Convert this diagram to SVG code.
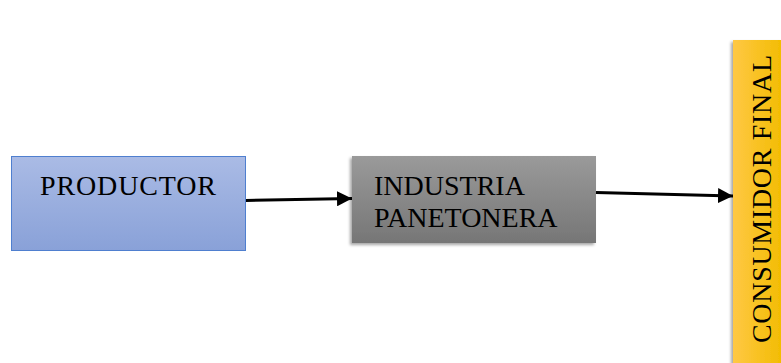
<svg xmlns="http://www.w3.org/2000/svg" width="781" height="363" viewBox="0 0 781 363">
  <defs>
    <linearGradient id="gBlue" x1="0" y1="0" x2="0" y2="1">
      <stop offset="0" stop-color="#aabbe5"/>
      <stop offset="1" stop-color="#89a1d8"/>
    </linearGradient>
    <linearGradient id="gGray" x1="0" y1="0" x2="0" y2="1">
      <stop offset="0" stop-color="#9a9a9a"/>
      <stop offset="1" stop-color="#767676"/>
    </linearGradient>
    <linearGradient id="gGold" x1="0" y1="0" x2="1" y2="0">
      <stop offset="0" stop-color="#ffc845"/>
      <stop offset="1" stop-color="#f2bc00"/>
    </linearGradient>
    <filter id="shadow" x="-10%" y="-10%" width="130%" height="130%">
      <feDropShadow dx="-2" dy="2" stdDeviation="1.5" flood-color="#000" flood-opacity="0.35"/>
    </filter>
    <marker id="arrow" viewBox="0 0 10 10" refX="10" refY="5" markerWidth="5" markerHeight="5" markerUnits="strokeWidth" orient="auto">
      <path d="M0,0 L10,5 L0,10 z" fill="#000"/>
    </marker>
  </defs>
  <style>
    .label { font-family: "Liberation Serif", "Times New Roman", serif; font-size: 28px; fill: #000; }
    .edge { stroke: #000; stroke-width: 3; fill: none; marker-end: url(#arrow); }
  </style>

  <g id="productor">
    <rect x="11.5" y="156.5" width="234" height="94" fill="url(#gBlue)" stroke="#4f7fcf" stroke-width="1"/>
    <text class="label" x="40" y="195" textLength="176">PRODUCTOR</text>
  </g>

  <g id="industria">
    <rect x="352" y="156" width="244" height="87" fill="url(#gGray)" filter="url(#shadow)"/>
    <text class="label" x="374" y="195">INDUSTRIA</text>
    <text class="label" x="374" y="227">PANETONERA</text>
  </g>

  <g id="consumidor">
    <rect x="733" y="40" width="50" height="325" fill="url(#gGold)" filter="url(#shadow)"/>
    <text class="label" transform="translate(771,343) rotate(-90)" x="0" y="0" textLength="288">CONSUMIDOR FINAL</text>
  </g>

  <g id="connectors">
    <line class="edge" x1="246" y1="200.5" x2="352" y2="198.5"/>
    <line class="edge" x1="596" y1="192.5" x2="733" y2="196"/>
  </g>
</svg>
